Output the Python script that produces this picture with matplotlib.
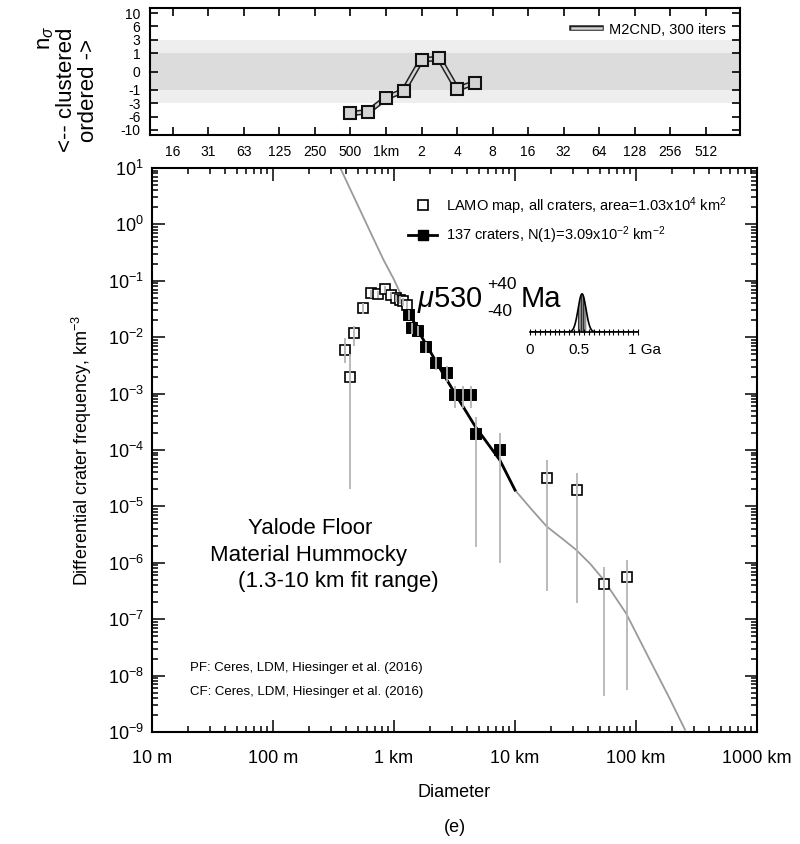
import numpy as np
import matplotlib.pyplot as plt
import matplotlib.patheffects as pe
from matplotlib.lines import Line2D
from matplotlib.ticker import FixedLocator, NullFormatter, NullLocator, LogLocator

plt.rcParams['font.family'] = ['Liberation Sans', 'DejaVu Sans']
plt.rcParams['mathtext.fontset'] = 'custom'
plt.rcParams['mathtext.rm'] = 'Liberation Sans'
plt.rcParams['mathtext.it'] = 'Liberation Sans:italic'

# ---- values ----
# randomness analysis (top panel), diameters in km
rnd_diam = [0.5, 0.707, 1.0, 1.414, 2.0, 2.828, 4.0, 5.657]
rnd_nsigma = [-5.3, -4.9, -2.2, -1.1, 0.64, 0.71, -0.96, -0.6]

# differential crater frequency, LAMO map, all craters
diam = [0.39, 0.43, 0.47, 0.55, 0.64, 0.74, 0.85, 0.94, 1.03, 1.12, 1.19, 1.27,
        1.34, 1.40, 1.59, 1.84, 2.22, 2.73, 3.19, 3.74, 4.31, 4.73, 7.52,
        18.3, 32.3, 54.0, 83.7]
freq = [6e-3, 2.0e-3, 1.2e-2, 3.3e-2, 6.0e-2, 5.8e-2, 7.1e-2, 5.6e-2, 4.9e-2, 4.6e-2, 4.3e-2, 3.7e-2,
        2.45e-2, 1.44e-2, 1.3e-2, 6.6e-3, 3.5e-3, 2.3e-3, 9.5e-4, 9.5e-4, 9.5e-4, 1.9e-4, 9.8e-5,
        3.2e-5, 1.95e-5, 4.2e-7, 5.7e-7]
err_lo = [3.5e-3, 2e-5, 7e-3, 2.6e-2, 5.0e-2, 4.9e-2, 6.1e-2, 4.8e-2, 4.2e-2, 3.9e-2, 3.6e-2, 3.1e-2,
          2.0e-2, 1.15e-2, 1.05e-2, 5.2e-3, 2.6e-3, 1.6e-3, 5.5e-4, 5.5e-4, 5.5e-4, 1.9e-6, 1.0e-6,
          3.2e-7, 1.9e-7, 4.3e-9, 5.5e-9]
err_hi = [9.5e-3, 5e-3, 1.6e-2, 4.1e-2, 7.0e-2, 6.7e-2, 8.1e-2, 6.4e-2, 5.6e-2, 5.3e-2, 5.0e-2, 4.3e-2,
          3.0e-2, 1.75e-2, 1.6e-2, 8.2e-3, 4.5e-3, 3.1e-3, 1.35e-3, 1.35e-3, 1.35e-3, 3.9e-4, 2.0e-4,
          6.6e-5, 3.9e-5, 8.5e-7, 1.1e-6]
fit_min, fit_max = 1.3, 10.0

# production function (gray) and fitted isochron (black)
pf_diam = [0.36, 0.45, 0.55, 0.65, 0.82, 1.0, 1.12, 1.3, 1.6, 2.0, 2.5, 3.2, 4.7, 7.5, 10.0,
           13.8, 18.3, 25.0, 32.0, 42.0, 54.0, 83.0, 130.0, 190.0, 254.0]
pf_freq = [10, 3.6, 1.44, 0.67, 0.234, 0.105, 0.062, 0.031, 0.0125, 0.0055, 0.0024, 0.001, 2.6e-4,
           6.6e-5, 1.95e-5, 8.7e-6, 4.4e-6, 2.6e-6, 1.7e-6, 9.5e-7, 5e-7, 1.26e-7, 1.9e-8, 3.9e-9, 1.1e-9]
fit_diam = [1.3, 1.6, 2.0, 2.5, 3.2, 4.7, 7.5, 10.0]
fit_freq = [0.031, 0.0125, 0.0055, 0.0024, 0.001, 2.6e-4, 6.6e-5, 1.95e-5]

age_ga, age_err_ga = 0.53, 0.04

W, H = 800, 844
fig = plt.figure(figsize=(W / 100, H / 100), dpi=100)


def box(l, t, r, b):
    return [l / W, 1 - b / H, (r - l) / W, (b - t) / H]


def px(x, y):
    return x / W, 1 - y / H


# ---------------- top panel ----------------
axt = fig.add_axes(box(150, 8, 740, 135))
axt.set_xscale('log')
axt.set_xlim(0.01, 1000)
nsig_vals = [-30, -10, -6, -3, -1, 0, 1, 3, 6, 10, 30]
nsig_pos = [-9.375, -4.375, -3.375, -2.375, -1.375, 0, 1.375, 2.375, 3.375, 4.375, 9.375]
axt.set_yscale('function', functions=(lambda v: np.interp(v, nsig_vals, nsig_pos),
                                      lambda p: np.interp(p, nsig_pos, nsig_vals)))
axt.set_ylim(-11.5, 11.5)
axt.axhspan(-3, 3, color='#eeeeee', lw=0, zorder=0)
axt.axhspan(-1, 1, color='#dcdcdc', lw=0, zorder=0)
yt = [-10, -6, -3, -1, 0, 1, 3, 6, 10]
axt.yaxis.set_major_locator(FixedLocator(yt))
axt.set_yticklabels([str(v) for v in yt])
axt.yaxis.set_minor_locator(NullLocator())
oct_km = [0.015625, 0.03125, 0.0625, 0.125, 0.25, 0.5, 1, 2, 4, 8, 16, 32, 64, 128, 256, 512]
oct_lab = ['16', '31', '63', '125', '250', '500', '1km', '2', '4', '8', '16', '32', '64', '128', '256', '512']
axt.xaxis.set_major_locator(FixedLocator(oct_km))
axt.set_xticklabels(oct_lab)
axt.xaxis.set_minor_locator(NullLocator())
axt.tick_params(which='both', direction='in', top=True, right=True, length=6, width=1.2,
                labelsize=10, pad=7)
for s in axt.spines.values():
    s.set_linewidth(1.5)
axt.plot(rnd_diam, rnd_nsigma, color='#d4d4d4', lw=1.8, zorder=3,
         path_effects=[pe.Stroke(linewidth=4, foreground='#222222'), pe.Normal()],
         label='M2CND, 300 iters')
axt.plot(rnd_diam, rnd_nsigma, ls='none', marker='s', ms=8, mfc='#d4d4d4', mec='#111111', mew=1.5, zorder=4)
axt.legend(loc='upper right', frameon=False, fontsize=10.5, handlelength=2.0,
           borderaxespad=0.6, handletextpad=0.5)
fig.text(*px(46, 38), 'n$_{\\sigma}$', rotation=90, ha='center', va='center', fontsize=16)
fig.text(*px(67, 90), '<-- clustered', rotation=90, ha='center', va='center', fontsize=16)
fig.text(*px(89, 90), 'ordered ->', rotation=90, ha='center', va='center', fontsize=16)

# ---------------- main panel ----------------
ax = fig.add_axes(box(152, 168, 757, 732))
ax.set_xscale('log')
ax.set_yscale('log')
ax.set_xlim(0.01, 1000)
ax.set_ylim(1e-9, 10)
ax.xaxis.set_major_locator(FixedLocator([0.01, 0.1, 1, 10, 100, 1000]))
ax.set_xticklabels(['10 m', '100 m', '1 km', '10 km', '100 km', '1000 km'])
ax.xaxis.set_minor_locator(LogLocator(base=10, subs=np.arange(2, 10), numticks=20))
ax.xaxis.set_minor_formatter(NullFormatter())
ax.yaxis.set_major_locator(LogLocator(base=10, numticks=20))
ax.yaxis.set_minor_locator(LogLocator(base=10, subs=np.arange(2, 10), numticks=30))
ax.yaxis.set_minor_formatter(NullFormatter())
ax.tick_params(which='both', direction='in', top=True, right=True, width=1.1)
ax.tick_params(which='major', length=9, labelsize=13)
ax.tick_params(axis='x', which='major', pad=13)
ax.tick_params(axis='y', which='major', pad=6)
ax.tick_params(which='minor', length=4.5)
for s in ax.spines.values():
    s.set_linewidth(1.5)
ax.set_xlabel('Diameter', fontsize=13, labelpad=12)
ax.set_ylabel('Differential crater frequency, km$^{-3}$', fontsize=13, labelpad=10)

ax.plot(pf_diam, pf_freq, color='#9a9a9a', lw=1.3, zorder=2)
ax.plot(fit_diam, fit_freq, color='black', lw=2.0, zorder=3)

d = np.array(diam)
f = np.array(freq)
lo = np.array(err_lo)
hi = np.array(err_hi)
infit = (d >= fit_min) & (d <= fit_max)
ax.plot(d, f, ls='none', marker='s', ms=7.5, mfc='white', mec='black', mew=1.2, zorder=4)
ax.plot(d[infit], f[infit], ls='none', marker='s', ms=7.5, mfc='black', mec='black', mew=1.2, zorder=5)
ax.vlines(d, lo, hi, color='#b4b4b4', lw=1.3, zorder=6)

hnd = [Line2D([], [], ls='none', marker='s', ms=7.5, mfc='white', mec='black', mew=1.2),
       Line2D([], [], color='black', lw=2, marker='s', ms=7.5, mfc='black', mec='black')]
ax.legend(hnd, ['LAMO map, all craters, area=1.03x10$^{4}$ km$^{2}$',
                '137 craters, N(1)=3.09x10$^{-2}$ km$^{-2}$'],
          loc='upper left', bbox_to_anchor=((408 - 152) / 605, (732 - 195) / 564),
          frameon=False, fontsize=10.5, borderpad=0, borderaxespad=0,
          handlelength=2.0, handletextpad=0.6, labelspacing=0.55)

# age annotation
fig.text(*px(417, 307), '$\\mu$530', fontsize=21, va='baseline')
fig.text(*px(487, 289), '+40', fontsize=12.5, va='baseline')
fig.text(*px(487, 316), '-40', fontsize=12.5, va='baseline')
fig.text(*px(521, 307), 'Ma', fontsize=21, va='baseline')

axi = fig.add_axes(box(530, 290, 638, 332))
axi.set_xlim(0, 1.1)
axi.set_ylim(0, 1.1)
t = np.linspace(0, 1.1, 500)
g = np.exp(-0.5 * ((t - age_ga) / age_err_ga) ** 2)
band = (t >= age_ga - age_err_ga) & (t <= age_ga + age_err_ga)
axi.fill_between(t[band], 0, g[band], color='#8c8c8c', lw=0)
axi.vlines(t[band][::12], 0, g[band][::12], color='#333333', lw=0.8)
axi.plot(t, g, color='black', lw=1.2)
for k in ['left', 'right', 'top']:
    axi.spines[k].set_visible(False)
axi.spines['bottom'].set_linewidth(1.2)
axi.patch.set_alpha(0)
axi.set_yticks([])
axi.set_xticks([0, 0.5, 1.0])
axi.set_xticklabels(['0', '0.5', '1 Ga'])
axi.set_xticks(np.arange(0, 1.101, 0.05), minor=True)
axi.tick_params(which='both', direction='inout', length=4, width=0.8, labelsize=11, pad=6)
axi.get_xticklabels()[2].set_horizontalalignment('left')
axi.get_xticklabels()[2].set_x(0.97)

# panel texts
fig.text(*px(310, 528), 'Yalode Floor', fontsize=16, ha='center', va='center')
fig.text(*px(308, 555), 'Material Hummocky', fontsize=16, ha='center', va='center')
fig.text(*px(338, 582), '(1.3-10 km fit range)', fontsize=16, ha='center', va='center')
fig.text(*px(190, 668), 'PF: Ceres, LDM, Hiesinger et al. (2016)', fontsize=9.5, va='center')
fig.text(*px(190, 692), 'CF: Ceres, LDM, Hiesinger et al. (2016)', fontsize=9.5, va='center')
fig.text(*px(455, 828), '(e)', fontsize=13, ha='center', va='center')

fig.savefig('out.png', dpi=100)
